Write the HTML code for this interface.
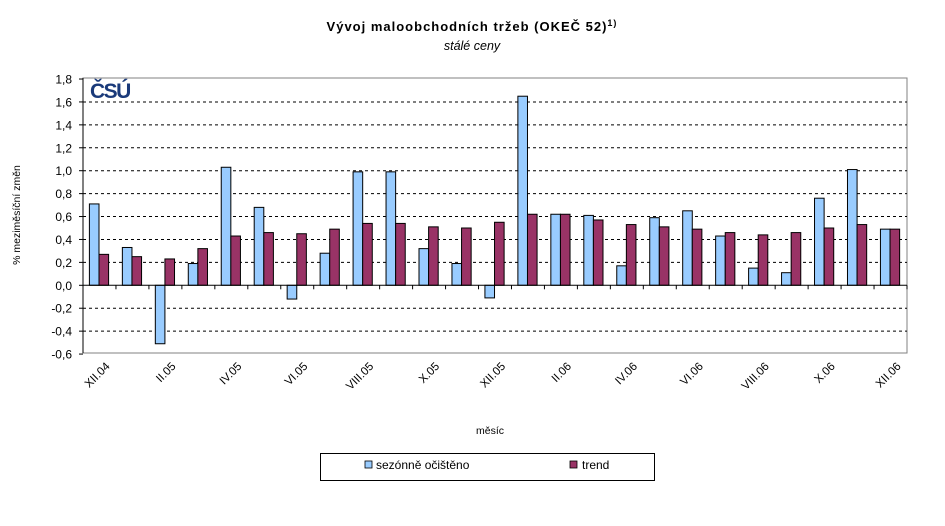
<!DOCTYPE html>
<html><head><meta charset="utf-8"><style>
body{margin:0;background:#fff;}
svg text{font-family:"Liberation Sans",Arial,sans-serif;}
</style></head><body>
<svg id="s" width="945" height="521" xmlns="http://www.w3.org/2000/svg">
<rect width="945" height="521" fill="#fff"/>
<text x="472" y="31" text-anchor="middle" font-size="13" font-weight="bold" letter-spacing="1">Vývoj maloobchodních tržeb (OKEČ 52)<tspan font-size="9" dy="-5">1)</tspan></text>
<text x="472" y="50" text-anchor="middle" font-size="12.5" font-style="italic">stálé ceny</text>
<rect x="83" y="78" width="824" height="275" fill="#fff" stroke="#808080" stroke-width="1"/>
<g id="g"></g>
<text x="90" y="98" font-size="21" font-weight="bold" fill="#1a3a7a" letter-spacing="-1.5">ČSÚ</text>
<text transform="translate(20,215) rotate(-90)" text-anchor="middle" font-size="10.5">% meziměsíční změn</text>
<text x="490" y="434" text-anchor="middle" font-size="10.5">měsíc</text>
<rect x="320.5" y="453.5" width="334" height="27" fill="#fff" stroke="#000"/>
<rect x="365" y="461" width="7" height="7" fill="#99ccff" stroke="#000" stroke-width="0.8"/>
<text x="376" y="469" font-size="12">sezónně očištěno</text>
<rect x="570" y="461" width="7" height="7" fill="#993366" stroke="#000" stroke-width="0.8"/>
<text x="582" y="469" font-size="12">trend</text>
</svg>
<script>
var b=[0.71,0.33,-0.51,0.19,1.03,0.68,-0.12,0.28,0.99,0.99,0.32,0.19,-0.11,1.65,0.62,0.61,0.17,0.59,0.65,0.43,0.15,0.11,0.76,1.01,0.49];
var r=[0.27,0.25,0.23,0.32,0.43,0.46,0.45,0.49,0.54,0.54,0.51,0.50,0.55,0.62,0.62,0.57,0.53,0.51,0.49,0.46,0.44,0.46,0.50,0.53,0.49];
var L=["XII.04","II.05","IV.05","VI.05","VIII.05","X.05","XII.05","II.06","IV.06","VI.06","VIII.06","X.06","XII.06"];
var x0=83,w=824/25,z=285.3,k=114.6,h='';
for(var v=-0.6;v<=1.81;v+=0.2){var y=z-v*k;var vv=Math.round(v*10)/10;
 if(Math.abs(vv)>0.01&&vv<1.79&&vv>-0.59)h+='<line x1="83" x2="907" y1="'+y+'" y2="'+y+'" stroke="#000" stroke-dasharray="3,3" stroke-width="1"/>';
 h+='<line x1="79" x2="83" y1="'+y+'" y2="'+y+'" stroke="#000"/>';
 h+='<text x="72" y="'+(y+4.5)+'" text-anchor="end" font-size="12">'+vv.toFixed(1).replace('.',',')+'</text>';}
for(var i=0;i<25;i++){var gx=x0+i*w;
 var bx=gx+6.4,bw=9.6;
 var y1=z-Math.max(b[i],0)*k,hh=Math.abs(b[i])*k;
 h+='<rect x="'+bx+'" y="'+y1+'" width="'+bw+'" height="'+hh+'" fill="#99ccff" stroke="#000" stroke-width="1"/>';
 h+='<rect x="'+(bx+bw)+'" y="'+(z-r[i]*k)+'" width="'+bw+'" height="'+(r[i]*k)+'" fill="#993366" stroke="#000" stroke-width="1"/>';
 h+='<line x1="'+gx+'" x2="'+gx+'" y1="'+z+'" y2="'+(z+4)+'" stroke="#000"/>';
 if(i%2==0){var cx=gx+w/2+11;h+='<text transform="translate('+cx+',367) rotate(-45)" text-anchor="end" font-size="11.5">'+L[i/2]+'</text>';}}
h+='<line x1="907" x2="907" y1="'+z+'" y2="'+(z+4)+'" stroke="#000"/>';
h+='<line x1="83" x2="907" y1="'+z+'" y2="'+z+'" stroke="#000"/>';
h+='<line x1="83" x2="83" y1="78" y2="353" stroke="#000"/>';
document.getElementById('g').innerHTML=h;
</script>
</body></html>
